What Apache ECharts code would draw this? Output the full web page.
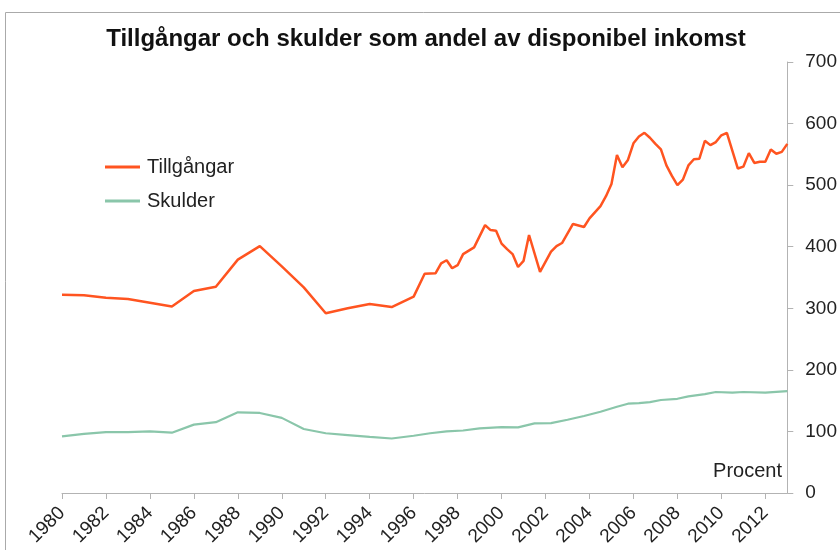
<!DOCTYPE html>
<html>
<head>
<meta charset="utf-8">
<script src="https://cdn.jsdelivr.net/npm/echarts@6/dist/echarts.min.js"></script>
<style>
  html, body { margin: 0; padding: 0; background: #fff; }
  #chart { width: 840px; height: 550px; }
</style>
</head>
<body>
<div id="chart"></div>
<script>
// Tillgångar (procent av disponibel inkomst), årsdata till 1996, sedan kvartal
const assetYears = [1980, 1981, 1982, 1983, 1984, 1985, 1986, 1987, 1988, 1989, 1990, 1991, 1992, 1993, 1994, 1995, 1996,
  1996.5, 1997, 1997.25, 1997.5, 1997.75, 1998, 1998.25, 1998.75, 1999.25, 1999.5, 1999.75,
  2000, 2000.25, 2000.5, 2000.75, 2001, 2001.25, 2001.75, 2002.25, 2002.5, 2002.75, 2003.25, 2003.75,
  2004, 2004.5, 2004.75, 2005, 2005.25, 2005.5, 2005.75, 2006, 2006.25, 2006.5, 2006.75,
  2007, 2007.25, 2007.5, 2007.75, 2008, 2008.25, 2008.5, 2008.75, 2009, 2009.25, 2009.5, 2009.75,
  2010, 2010.25, 2010.75, 2011, 2011.25, 2011.5, 2011.75, 2012, 2012.25, 2012.5, 2012.75, 2013];
const assetValues = [322, 321, 317, 315, 309, 303, 328, 335, 379, 401, 368, 334, 292, 300, 307, 302, 319,
  356, 357, 373, 378, 365, 370, 388, 399, 435, 427, 426,
  405, 396, 388, 367, 377, 419, 359, 392, 401, 406, 437, 432,
  446, 466, 482, 502, 549, 529, 541, 568, 579, 585, 577,
  567, 558, 532, 515, 500, 509, 532, 542, 543, 572, 565, 570,
  581, 585, 527, 530, 552, 536, 538, 538, 558, 551, 554, 567];

// Skulder
const debtYears = [1980, 1981, 1982, 1983, 1984, 1985, 1986, 1987, 1988, 1989, 1990, 1991, 1992, 1993, 1994, 1995, 1996,
  1996.75, 1997.5, 1998.25, 1999, 2000, 2000.75, 2001.5, 2002.25, 2003, 2003.75, 2004.5, 2005.25, 2005.75,
  2006.25, 2006.75, 2007.25, 2008, 2008.5, 2009.25, 2009.75, 2010.5, 2011, 2012, 2013];
const debtValues = [92, 96, 99, 99, 100, 98, 111, 115, 131, 130, 122, 104, 97, 94, 91, 88.5, 93,
  97, 100, 101.5, 105, 107, 106.5, 113, 113.5, 119, 125, 132, 140, 145,
  146, 147.5, 151, 153, 157, 160.5, 164, 163, 164, 163, 165.5];

const seriesNames = ["Tillgångar", "Skulder"];
const titleText = "Tillgångar och skulder som andel av disponibel inkomst";
const unitText = "Procent";

const font = "'Liberation Sans', Arial, sans-serif";
const orange = "#FF5420";
const green = "#8AC6AA";
const axisGray = "#b3b3b3";

const pairs = (xs, ys) => xs.map((x, i) => [x, ys[i]]);

const chart = echarts.init(document.getElementById("chart"));

chart.setOption({
  animation: false,
  textStyle: { fontFamily: font },
  title: {
    text: titleText,
    left: 426,
    top: 27,
    textAlign: "center",
    padding: 0,
    textStyle: { fontFamily: font, fontSize: 24, fontWeight: "bold", color: "#111" },
  },
  legend: {
    orient: "vertical",
    left: 105,
    top: 157,
    padding: 0,
    icon: "rect",
    itemWidth: 35,
    itemHeight: 3,
    itemGap: 14,
    data: seriesNames,
    textStyle: { fontFamily: font, fontSize: 20, lineHeight: 20, color: "#222", padding: [0, 0, 0, 2] },
  },
  grid: { left: 62, right: 52, top: 62, bottom: 57 },
  xAxis: {
    type: "value",
    min: 1980,
    max: 2013,
    interval: 2,
    axisLine: { lineStyle: { color: axisGray, width: 1 } },
    axisTick: { show: true, length: 6, lineStyle: { color: axisGray } },
    splitLine: { show: false },
    axisLabel: {
      rotate: 45,
      showMaxLabel: false,
      margin: 17,
      fontSize: 19,
      color: "#222",
      fontFamily: font,
      formatter: (v) => String(v),
    },
  },
  yAxis: {
    type: "value",
    position: "right",
    min: 0,
    max: 700,
    interval: 100,
    axisLine: { show: true, lineStyle: { color: axisGray, width: 1 } },
    axisTick: { show: true, length: 6, lineStyle: { color: axisGray } },
    splitLine: { show: false },
    axisLabel: { fontSize: 19, color: "#222", margin: 18, fontFamily: font },
  },
  graphic: [
    {
      type: "rect",
      shape: { x: 5.5, y: 12.5, width: 900, height: 700 },
      style: { fill: "none", stroke: "#aaa", lineWidth: 1 },
      silent: true,
    },
    {
      type: "text",
      x: 782,
      y: 471,
      style: {
        text: unitText,
        fontFamily: font,
        fontSize: 20,
        fill: "#222",
        textAlign: "right",
        textVerticalAlign: "middle",
      },
    },
  ],
  series: [
    {
      name: seriesNames[0],
      type: "line",
      data: pairs(assetYears, assetValues),
      symbol: "none",
      color: orange,
      lineStyle: { color: orange, width: 2.5 },
    },
    {
      name: seriesNames[1],
      type: "line",
      data: pairs(debtYears, debtValues),
      symbol: "none",
      color: green,
      lineStyle: { color: green, width: 2.2 },
    },
  ],
});
</script>
</body>
</html>
